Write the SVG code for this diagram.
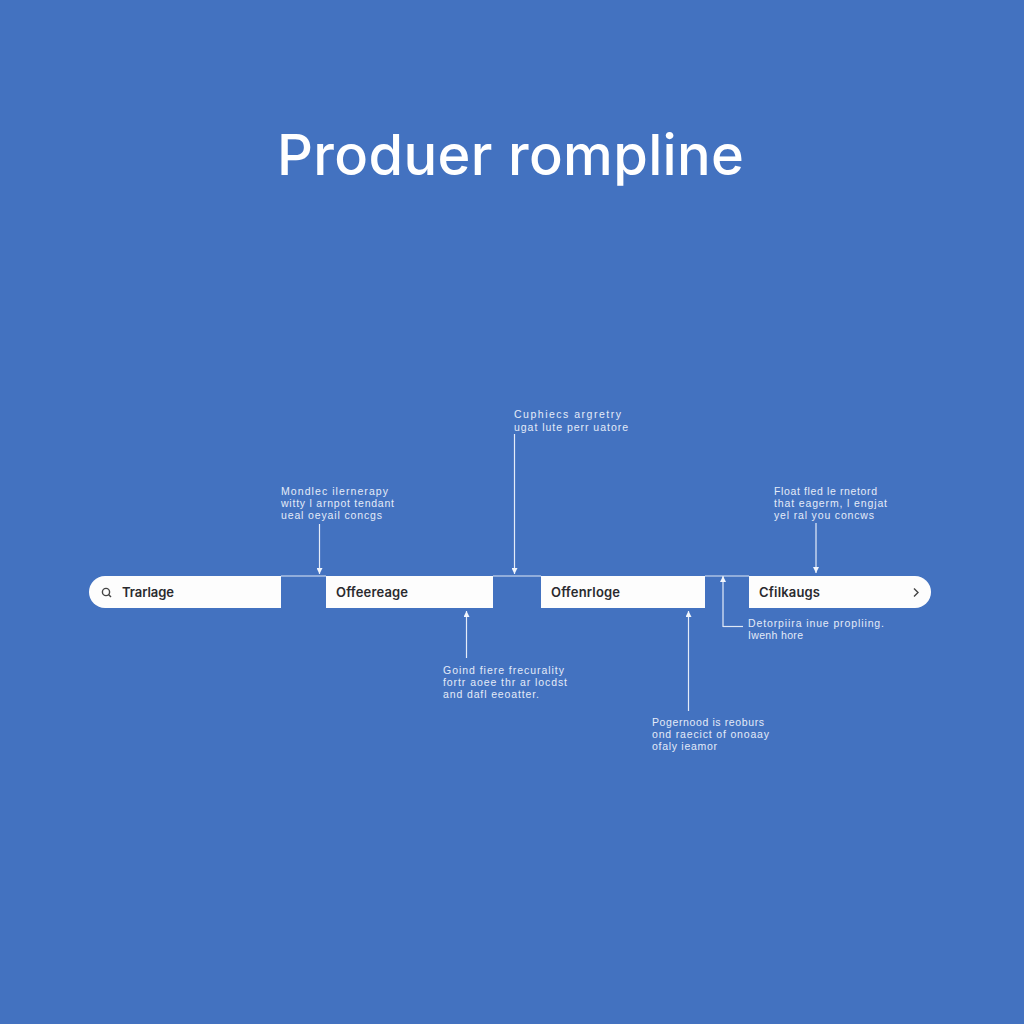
<svg xmlns="http://www.w3.org/2000/svg" width="1024" height="1024" viewBox="0 0 1024 1024">
<defs>
<marker id="ah" markerWidth="7" markerHeight="6" refX="6" refY="3" orient="auto" markerUnits="userSpaceOnUse"><path d="M0 0L6 3L0 6z" fill="#f2f6fc"/></marker>
</defs>
<style>
.seg{fill:#fdfdfd}
.lab{font:600 13px "Inter","Liberation Sans",sans-serif;fill:#2a2a2e}
.note{font:400 10.5px "Liberation Sans",sans-serif;fill:#e3ebf8}
.c{fill:none;stroke:#dfe8f6;stroke-width:1.2}
.c2{fill:none;stroke:#e4ecf8;stroke-width:1.2;marker-end:url(#ah)}
.ic{fill:none;stroke:#444;stroke-width:1.4}
</style>
<rect width="1024" height="1024" fill="#4372c0"/>
<text id="title" x="277" y="175" textLength="467" font-family="Inter,'Noto Sans',sans-serif" font-size="56" font-weight="500" fill="#ffffff">Produer rompline</text>
<g id="connectors">
<path class="c" d="M281 576H326M493 576H541M705 576H749"/>
<path class="c2" d="M319.500 524V574"/>
<path class="c2" d="M514.500 434V574"/>
<path class="c2" d="M816 523V573"/>
<path class="c2" d="M466.500 658V611"/>
<path class="c2" d="M688.500 711V611"/>
<path class="c2" d="M723 627V576"/>
<path class="c" d="M723 626.500H743"/>
</g>
<g id="node-1">
<path class="seg" d="M105 576H281V608H105A16 16 0 0 1 105 576Z"/>
<circle class="ic" cx="106" cy="592" r="3.600"/><path class="ic" d="M108.500 594.500L111 597"/>
<text class="lab" x="122" y="597" textLength="52">Trarlage</text>
</g>
<g id="node-2">
<rect class="seg" x="326" y="576" width="167" height="32"/>
<text class="lab" x="336" y="597" textLength="72">Offeereage</text>
</g>
<g id="node-3">
<rect class="seg" x="541" y="576" width="164" height="32"/>
<text class="lab" x="551" y="597" textLength="69">Offenrloge</text>
</g>
<g id="node-4">
<path class="seg" d="M749 576H915A16 16 0 0 1 915 608H749Z"/>
<text class="lab" x="759" y="597" textLength="61">Cfilkaugs</text>
<path class="ic" d="M914 588.500L918 592.500L914 596.500"/>
</g>
<g id="note-1">
<text class="note" x="281" y="495" textLength="107">Mondlec ilernerapy</text>
<text class="note" x="281" y="507" textLength="113">witty l arnpot tendant</text>
<text class="note" x="281" y="519" textLength="101">ueal oeyail concgs</text>
</g>
<g id="note-2">
<text class="note" x="514" y="418" textLength="107">Cuphiecs argretry</text>
<text class="note" x="514" y="430.500" textLength="114">ugat lute perr uatore</text>
</g>
<g id="note-3">
<text class="note" x="774" y="495" textLength="103">Float fled le rnetord</text>
<text class="note" x="774" y="507" textLength="113">that eagerm, l engjat</text>
<text class="note" x="774" y="519" textLength="100">yel  ral you concws</text>
</g>
<g id="note-4">
<text class="note" x="443" y="674" textLength="121">Goind fiere frecurality</text>
<text class="note" x="443" y="686" textLength="124">fortr aoee thr ar locdst</text>
<text class="note" x="443" y="698" textLength="96">and dafl eeoatter.</text>
</g>
<g id="note-5">
<text class="note" x="652" y="726" textLength="112">Pogernood is reoburs</text>
<text class="note" x="652" y="738" textLength="117">ond  raecict  of onoaay</text>
<text class="note" x="652" y="750" textLength="65">ofaly ieamor</text>
</g>
<g id="note-6">
<text class="note" x="748" y="627" textLength="136">Detorpiira inue propliing.</text>
<text class="note" x="748" y="639" textLength="55">Iwenh hore</text>
</g>
</svg>
